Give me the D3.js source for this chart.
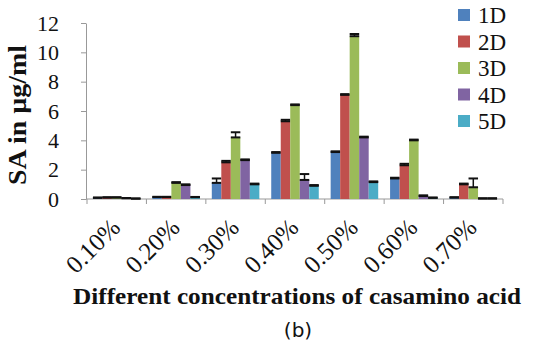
<!DOCTYPE html>
<html><head><meta charset="utf-8">
<script src="https://cdn.jsdelivr.net/npm/d3@7"></script>
<style>body{margin:0;background:#fff}svg{display:block}</style>
</head><body>
<script>
const categories = ["0.10%","0.20%","0.30%","0.40%","0.50%","0.60%","0.70%"];
const seriesNames = ["1D","2D","3D","4D","5D"];
const s1D = [0.08,0.13,1.1,3.15,3.2,1.4,0.1];
const s2D = [0.1,0.13,2.5,5.3,7.1,2.3,1.0];
const s3D = [0.1,1.1,4.2,6.4,11.1,4.0,0.8];
const s4D = [0.05,0.95,2.65,1.3,4.2,0.2,0.03];
const s5D = [0.02,0.12,1.0,0.9,1.15,0.08,0.03];
const e1D = [0.02,0.02,0.3,0.05,0.05,0.05,0.02];
const e2D = [0.02,0.02,0.1,0.1,0.05,0.1,0.05];
const e3D = [0.02,0.05,0.35,0.05,0.15,0.05,0.6];
const e4D = [0.02,0.05,0.05,0.4,0.05,0.05,0.02];
const e5D = [0.02,0.02,0.05,0.05,0.05,0.02,0.02];
const yTicks = [0,2,4,6,8,10,12];
const colors = ["#4F81BD","#C0504D","#9BBB59","#8064A2","#4BACC6"];

const values = [s1D,s2D,s3D,s4D,s5D];
const errs = [e1D,e2D,e3D,e4D,e5D];

const W=533,H=353;
const svg=d3.select("body").append("svg").attr("width",W).attr("height",H);
const x=d3.scaleBand().domain(categories).range([87,503]).paddingInner(0.2).paddingOuter(0.1);
const xs=d3.scaleBand().domain(seriesNames).range([0,x.bandwidth()]);
const y=d3.scaleLinear().domain([0,12]).range([199,23]);

// axes
const yAxis=svg.append("g").attr("transform","translate(86,0)")
  .call(d3.axisLeft(y).tickValues(yTicks).tickSize(5).tickSizeOuter(0).tickPadding(22));
yAxis.select(".domain").attr("stroke","#999");
yAxis.selectAll(".tick line").attr("stroke","#999");
yAxis.selectAll("text").attr("font-family","Liberation Serif").attr("font-size",22).attr("fill","#111");

const xb=d3.scalePoint().domain(d3.range(categories.length+1)).range([87,503]);
const xAxisG=svg.append("g").attr("transform","translate(0,199)");
xAxisG.append("line").attr("x1",86).attr("x2",503).attr("stroke","#999");
xAxisG.selectAll("line.t").data(d3.range(categories.length+1)).join("line").attr("class","t")
  .attr("x1",d=>xb(d)).attr("x2",d=>xb(d)).attr("y1",0).attr("y2",5).attr("stroke","#999");

// bars
const g=svg.append("g");
seriesNames.forEach((s,si)=>{
  categories.forEach((c,ci)=>{
    const v=values[si][ci], e=errs[si][ci];
    const bx=x(c)+xs(s), bw=xs.bandwidth();
    g.append("rect").attr("x",bx).attr("y",y(v)).attr("width",bw).attr("height",y(0)-y(v)).attr("fill",colors[si]);
    const cx=bx+bw/2;
    g.append("line").attr("x1",cx).attr("x2",cx).attr("y1",y(v)).attr("y2",y(v+e)).attr("stroke","#111").attr("stroke-width",1.5);
    [v,v+e].forEach(t=>g.append("line").attr("x1",bx).attr("x2",bx+bw).attr("y1",y(t)).attr("y2",y(t)).attr("stroke","#111").attr("stroke-width",2));
  });
});

// x tick labels
svg.append("g").selectAll("text").data(categories).join("text")
  .attr("transform",d=>`translate(${x(d)+x.bandwidth()/2+5},${229}) rotate(-45)`)
  .attr("text-anchor","end").attr("font-family","Liberation Serif").attr("font-size",25).attr("fill","#111")
  .text(d=>d);

// legend
const lg=svg.append("g");
seriesNames.forEach((s,i)=>{
  const ly=15+i*26.5;
  lg.append("rect").attr("x",458).attr("y",ly-6).attr("width",12).attr("height",12).attr("fill",colors[i]);
  lg.append("text").attr("x",478).attr("y",ly).attr("dy","0.35em").attr("font-family","Liberation Serif").attr("font-size",23).attr("fill","#111").text(s);
});

// titles
svg.append("text").attr("transform","translate(26,115) rotate(-90)").attr("text-anchor","middle")
  .attr("font-family","Liberation Serif").attr("font-weight","bold").attr("font-size",25).attr("fill","#111")
  .attr("textLength",140).attr("lengthAdjust","spacingAndGlyphs").text("SA in µg/ml");
svg.append("text").attr("x",297).attr("y",304).attr("text-anchor","middle")
  .attr("font-family","Liberation Serif").attr("font-weight","bold").attr("font-size",23).attr("fill","#111")
  .attr("textLength",448).attr("lengthAdjust","spacingAndGlyphs").text("Different concentrations of casamino acid");
svg.append("text").attr("x",298).attr("y",337).attr("text-anchor","middle")
  .attr("font-family","DejaVu Sans").attr("font-size",20).attr("fill","#111").text("(b)");
</script>
</body></html>
